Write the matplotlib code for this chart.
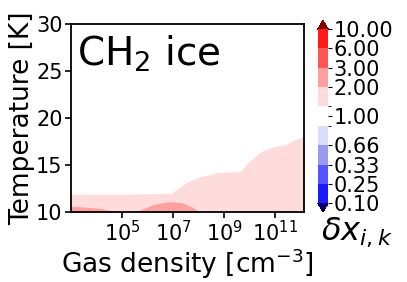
import numpy as np
import matplotlib
matplotlib.use("Agg")
import matplotlib.pyplot as plt
from matplotlib.colors import ListedColormap, BoundaryNorm
import matplotlib.cm as cm

# Data
# Upper boundary of the light-pink region (delta x between 1.1 and 2)
logn_light = [2.95, 4.0, 5.0, 6.0, 6.93, 7.2, 7.53, 8.04, 8.71, 9.62, 9.9, 10.41, 10.92, 11.32, 11.71, 12.12]
T_light = [11.9, 11.9, 11.9, 11.95, 12.0, 12.6, 13.2, 13.75, 14.2, 14.3, 15.2, 16.4, 16.95, 17.1, 17.65, 18.0]
# Upper boundary of the darker pink region (delta x between 2 and 3)
logn_mid = [2.95, 4.09, 4.8, 5.16, 5.4, 5.67, 6.26, 6.86, 7.33, 7.72, 8.04, 12.12]
T_mid = [10.64, 10.4, 10.05, 10.0, 10.0, 10.2, 10.85, 11.1, 11.0, 10.56, 10.0, 10.0]

levels = [0.1, 0.25, 0.33, 0.66, 0.9, 1.1, 2, 3, 6, 10]
tick_vals = [0.1, 0.25, 0.33, 0.66, 1.0, 2, 3, 6, 10]
band_colors = ['#1a1aff', '#5555ff', '#9999ee', '#dcdcff', '#ffffff',
               '#ffdcdc', '#ffa0a0', '#ff5555', '#ff1a1a']
under_color = '#00006a'
over_color = '#800000'

fig = plt.figure(figsize=(4.07, 2.82), dpi=100)
ax = fig.add_axes([0.1744, 0.248, 0.5725, 0.667])

cmap = ListedColormap(band_colors)
cmap.set_under(under_color)
cmap.set_over(over_color)
norm = BoundaryNorm(levels, cmap.N)

x_light = 10 ** np.array(logn_light)
x_mid = 10 ** np.array(logn_mid)
ax.fill_between(x_light, 10, T_light, color=cmap(norm(1.5)), lw=0)
ax.fill_between(x_mid, 10, T_mid, color=cmap(norm(2.5)), lw=0)

ax.set_xscale('log')
ax.set_xlim(10 ** 2.98, 10 ** 12.12)
ax.set_ylim(10, 30)
ax.set_xticks([1e5, 1e7, 1e9, 1e11])
ax.xaxis.set_minor_locator(matplotlib.ticker.NullLocator())
ax.set_yticks([10, 15, 20, 25, 30])
ax.tick_params(labelsize=15, width=1.2, length=4, pad=2)
for s in ax.spines.values():
    s.set_linewidth(1.3)
ax.set_xlabel('Gas density [cm$^{-3}$]', fontsize=19, labelpad=1)
ax.set_ylabel('Temperature [K]', fontsize=19, labelpad=1)
ax.text(0.025, 0.95, 'CH$_2$ ice', transform=ax.transAxes, fontsize=28,
        va='top', ha='left')

cax = fig.add_axes([0.781, 0.248, 0.025, 0.68])
sm = cm.ScalarMappable(norm=norm, cmap=cmap)
cb = fig.colorbar(sm, cax=cax, extend='both', ticks=tick_vals,
                  spacing='uniform', drawedges=False)
cb.outline.set_visible(False)
cb.ax.set_yticklabels(['%.2f' % v for v in tick_vals])
cb.ax.tick_params(labelsize=15, length=3, pad=1)
fig.text(357 / 407, 1 - 240 / 282, r'$\delta x_{i,k}$', fontsize=23,
         ha='center', va='baseline')

fig.savefig('out.png', dpi=100)
